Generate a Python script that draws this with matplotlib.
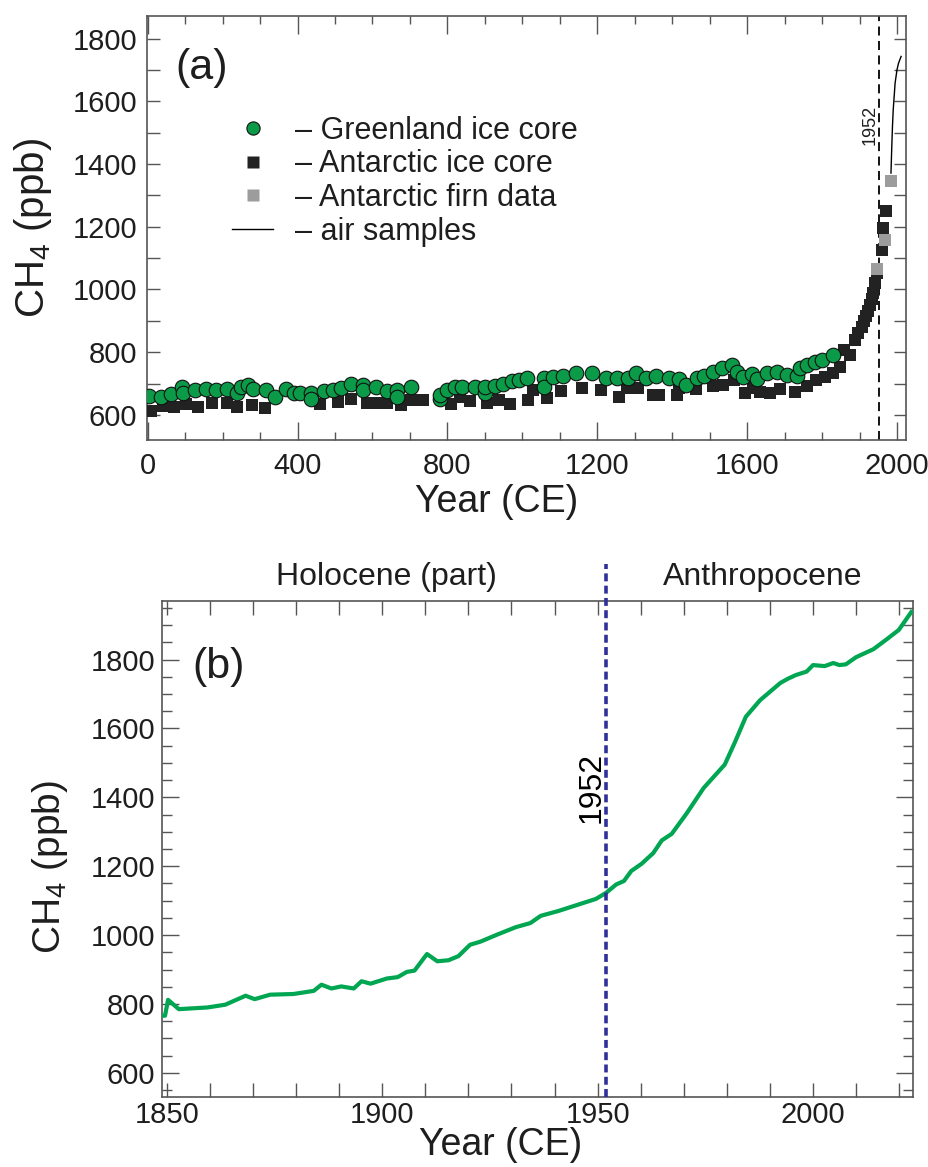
import numpy as np
import matplotlib.pyplot as plt
from matplotlib.ticker import MultipleLocator
from matplotlib.lines import Line2D

plt.rcParams['font.family'] = ['Liberation Sans', 'DejaVu Sans']
plt.rcParams['mathtext.fontset'] = 'custom'
plt.rcParams['mathtext.rm'] = 'Liberation Sans'

# (a) last two millennia
greenland_year = [4, 36, 63, 91, 94, 125, 155, 181, 211, 239, 249, 269, 282, 316, 340,
                  370, 390, 407, 437, 437, 470, 495, 517, 542, 574, 575, 609, 638, 665, 665,
                  703, 780, 780, 800, 820, 840, 874, 901, 901, 927, 948, 972, 991, 1012, 1058,
                  1058, 1082, 1109, 1142, 1185, 1223, 1254, 1281, 1304, 1331, 1358, 1391, 1418,
                  1438, 1465, 1485, 1509, 1532, 1559, 1573, 1590, 1613, 1626, 1653, 1680, 1707,
                  1734, 1741, 1761, 1781, 1801, 1828]
greenland_ch4 = [660, 656, 667, 688, 669, 679, 681, 679, 681, 669, 690, 695, 681, 679, 658,
                 681, 671, 669, 671, 650, 677, 679, 685, 697, 695, 679, 688, 677, 679, 658,
                 690, 650, 663, 679, 690, 690, 690, 669, 688, 692, 700, 709, 711, 719, 719,
                 688, 722, 724, 732, 732, 716, 719, 719, 732, 716, 724, 719, 713,
                 695, 716, 724, 738, 751, 759, 738, 722, 730, 713, 732, 738, 727,
                 724, 748, 759, 769, 775, 790]

antarctic_year = [9, 40, 71, 103, 134, 171, 211, 239, 278, 313, 461, 508, 542, 585, 612,
                  638, 676, 703, 735, 810, 833, 860, 905, 937, 968, 1015, 1028, 1065, 1104, 1160,
                  1210, 1259, 1280, 1309, 1349, 1365, 1413, 1418, 1463, 1509, 1536, 1566, 1594,
                  1616, 1634, 1661, 1688, 1728, 1759, 1785, 1808, 1830, 1848, 1858, 1875, 1888,
                  1897, 1906, 1912, 1917, 1922, 1928, 1933, 1937, 1941, 1946, 1960, 1963, 1971]
antarctic_ch4 = [613, 628, 626, 635, 624, 637, 637, 624, 632, 621, 635, 642, 650, 639, 637,
                 637, 632, 647, 647, 635, 656, 645, 637, 647, 635, 647, 679, 653, 677, 685,
                 680, 658, 685, 685, 664, 664, 664, 685, 682, 693, 696, 712, 669,
                 685, 674, 669, 682, 674, 693, 712, 722, 733, 752, 807, 791, 839,
                 860, 881, 898, 914, 932, 951, 970, 988, 1020, 1052, 1127, 1196, 1249]

firn_year = [1947, 1969, 1984]
firn_ch4 = [1065, 1159, 1347]

air_year = [1984, 1986, 1988, 1990, 1995, 2000, 2004, 2011]
air_ch4 = [1371, 1450, 1520, 1573, 1658, 1700, 1721, 1743]

# (b) industrial era record
record_year = [1848.9, 1849.6, 1850.3, 1852.8, 1859.5, 1863.6, 1868.3, 1870.4, 1874.0, 1879.4,
               1884.1, 1885.9, 1888.2, 1890.5, 1893.4, 1895.2, 1897.3, 1901.1, 1903.6, 1905.7,
               1907.5, 1910.4, 1912.8, 1915.4, 1917.7, 1920.4, 1922.8, 1926.8, 1931.0, 1934.4,
               1936.8, 1940.9, 1945.6, 1949.6, 1952.0, 1954.3, 1956.1, 1957.8, 1960.2, 1962.9,
               1964.9, 1967.2, 1970.7, 1974.6, 1979.5, 1981.9, 1984.4, 1987.7, 1992.4, 1994.1,
               1996.0, 1998.5, 2000.0, 2002.7, 2004.7, 2006.1, 2007.6, 2010.0, 2014.0, 2017.0,
               2019.9, 2022.8]
record_ch4 = [766, 766, 812, 785, 790, 798, 824, 814, 827, 829,
              838, 856, 845, 851, 845, 866, 859, 874, 878, 893,
              897, 945, 924, 927, 939, 972, 981, 1002, 1023, 1035,
              1056, 1070, 1089, 1105, 1123, 1147, 1157, 1186, 1207, 1238,
              1275, 1294, 1354, 1427, 1495, 1561, 1634, 1682, 1732, 1744,
              1755, 1765, 1784, 1781, 1790, 1784, 1786, 1807, 1830, 1858,
              1886, 1938]

GREEN = '#0b9a48'
LINE_GREEN = '#00a651'
SPINE = '#555555'
TXT = '#1e1e1e'

fig = plt.figure(figsize=(9.29, 11.67), dpi=100)
ax1 = fig.add_axes([0.1582, 0.6230, 0.8170, 0.3633])
ax2 = fig.add_axes([0.1744, 0.0600, 0.8084, 0.4250])

for ax in (ax1, ax2):
    for sp in ax.spines.values():
        sp.set_color(SPINE)
        sp.set_linewidth(1.2)
    ax.tick_params(which='both', direction='in', top=True, right=True,
                   color=SPINE, width=1.0, labelcolor=TXT, labelsize=21)

# --- panel (a)
ax1.axvline(1952, color='black', lw=1.3, ls=(0, (5, 3)), zorder=2)
ax1.plot(air_year, air_ch4, color='black', lw=1.0, zorder=3)
ax1.scatter(antarctic_year, antarctic_ch4, marker='s', s=70, c='#222222',
            linewidths=0, zorder=3)
ax1.scatter(firn_year, firn_ch4, marker='s', s=70, c='#9c9c9c', linewidths=0, zorder=3)
ax1.scatter(greenland_year, greenland_ch4, marker='o', s=110, c=GREEN,
            edgecolors='#111111', linewidths=0.8, zorder=4)

ax1.set_xlim(-2, 2024)
ax1.set_ylim(520, 1872)
ax1.xaxis.set_major_locator(MultipleLocator(400))
ax1.xaxis.set_minor_locator(MultipleLocator(100))
ax1.yaxis.set_major_locator(MultipleLocator(200))
ax1.yaxis.set_minor_locator(MultipleLocator(100))
ax1.tick_params(axis='x', which='major', length=13, pad=9)
ax1.tick_params(axis='x', which='minor', length=6)
ax1.tick_params(axis='y', which='both', length=9, pad=7)

ax1.text(1928, 1526, '1952', rotation=90, ha='center', va='center',
         fontsize=13, color=TXT)
ax1.text(0.037, 0.877, '(a)', transform=ax1.transAxes, fontsize=31,
         ha='left', va='center', color=TXT)

ax1.set_xlabel('Year (CE)', fontsize=27, color=TXT, va='top')
ax1.xaxis.set_label_coords(0.461, -0.104)
ax1.set_ylabel(r'CH$_\mathregular{4}$ (ppb)', fontsize=29, color=TXT, va='center')
ax1.yaxis.set_label_coords(-0.150, 0.5)

handles = [
    Line2D([], [], ls='none', marker='o', ms=9.5, mfc=GREEN, mec='#111111', mew=0.8),
    Line2D([], [], ls='none', marker='s', ms=8, mfc='#222222', mec='none'),
    Line2D([], [], ls='none', marker='s', ms=8, mfc='#9c9c9c', mec='none'),
    Line2D([], [], color='black', lw=1.0),
]
labels = ['\u2013 Greenland ice core', '\u2013 Antarctic ice core',
          '\u2013 Antarctic firn data', '\u2013 air samples']
ax1.legend(handles, labels, loc='upper left', bbox_to_anchor=(0.112, 0.765),
           frameon=False, fontsize=22, labelspacing=0.12, handlelength=1.35,
           handletextpad=0.7, borderpad=0, borderaxespad=0, labelcolor=TXT)

# --- panel (b)
ax2.plot(record_year, record_ch4, color=LINE_GREEN, lw=3.0, zorder=3)
ax2.plot([1952, 1952], [0, 1.075], transform=ax2.get_xaxis_transform(),
         color='#30309a', lw=2.6, ls=(0, (2.2, 1.2)), clip_on=False, zorder=4)

ax2.set_xlim(1848.9, 2023.2)
ax2.set_ylim(530, 1970)
ax2.xaxis.set_major_locator(MultipleLocator(50))
ax2.xaxis.set_minor_locator(MultipleLocator(10))
ax2.yaxis.set_major_locator(MultipleLocator(200))
ax2.yaxis.set_minor_locator(MultipleLocator(50))
ax2.tick_params(axis='x', which='both', length=10, pad=3)
ax2.tick_params(axis='y', which='major', length=12, pad=5)
ax2.tick_params(axis='y', which='minor', length=7)

ax2.text(1948.6, 1430, '1952', rotation=90, ha='center', va='center',
         fontsize=23, color='black')
ax2.text(0.041, 0.867, '(b)', transform=ax2.transAxes, fontsize=31,
         ha='left', va='center', color=TXT)
ax2.text(1901, 1.048, 'Holocene (part)', transform=ax2.get_xaxis_transform(),
         ha='center', va='center', fontsize=23, color=TXT)
ax2.text(1988.4, 1.048, 'Anthropocene', transform=ax2.get_xaxis_transform(),
         ha='center', va='center', fontsize=23, color=TXT)

ax2.set_xlabel('Year (CE)', fontsize=27, color=TXT, va='top')
ax2.xaxis.set_label_coords(0.451, -0.060)
ax2.set_ylabel(r'CH$_\mathregular{4}$ (ppb)', fontsize=28, color=TXT, va='center')
ax2.yaxis.set_label_coords(-0.149, 0.464)

fig.savefig('out.png', dpi=100)
